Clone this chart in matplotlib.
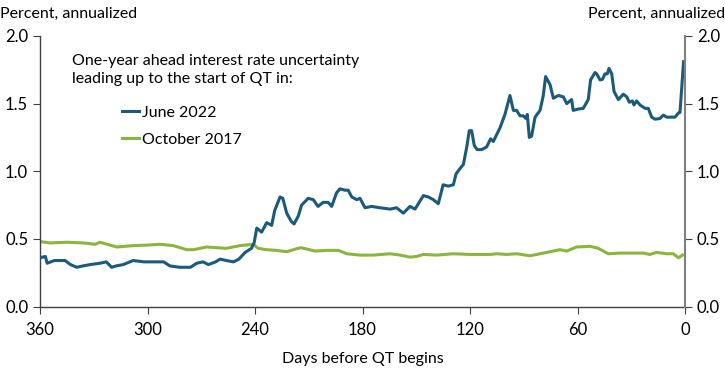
import matplotlib
matplotlib.use("Agg")
import matplotlib.pyplot as plt
import numpy as np

# days before QT begins, values in percent (annualized)
june22_days = [360, 357, 356, 352, 346, 343, 339.5, 336, 332, 326.5, 323, 320, 317.5, 313.5,
               308, 302, 297, 291, 287.5, 282, 276, 272.5, 269, 266, 262, 259.5, 256, 252,
               249, 245.5, 242, 240.5, 239, 236.3, 233.5, 230.7, 229, 226, 224.5, 222.3,
               219.8, 218.2, 215.8, 214, 210.3, 207.5, 204.8, 202, 199.2, 197.2, 194.5,
               192.6, 189.8, 188, 186, 183.2, 181.4, 178.6, 175, 170.2, 164.6, 161, 157.2,
               153.5, 150.7, 147.9, 146, 143.3, 140.5, 137.7, 135, 132.1, 129.3, 127.8,
               125.6, 123.7, 121.8, 120.4, 119.1, 117.6, 116, 113.5, 110.7, 108.5, 107,
               103.3, 100.5, 97.7, 95.8, 94, 92.1, 90.3, 88.8, 88, 86.9, 85.6, 83.7, 80.9,
               79.1, 77.8, 75.3, 73.5, 70.7, 67.9, 66, 63.3, 62.4, 59.6, 56.8, 54, 52.7,
               50.2, 49.3, 47.4, 46, 44.7, 43.4, 42.4, 40.9, 39.6, 37.2, 34.4, 32.5, 31.1,
               29.4, 28.5, 27, 25.1, 22.3, 20.5, 18.6, 16.7, 14, 12.1, 10.2, 7.4, 5.6, 3.7,
               2.8, 0.8]
june22_vals = [0.36, 0.37, 0.32, 0.34, 0.34, 0.31, 0.29, 0.30, 0.31, 0.32, 0.33, 0.29, 0.30, 0.31,
               0.34, 0.33, 0.33, 0.33, 0.30, 0.29, 0.29, 0.32, 0.33, 0.31, 0.33, 0.35, 0.34, 0.33,
               0.35, 0.40, 0.43, 0.47, 0.58, 0.55, 0.62, 0.60, 0.71, 0.81, 0.80, 0.69,
               0.63, 0.61, 0.67, 0.75, 0.80, 0.79, 0.74, 0.77, 0.77, 0.74, 0.84,
               0.87, 0.86, 0.86, 0.81, 0.79, 0.80, 0.73, 0.74, 0.73, 0.72, 0.73, 0.69,
               0.74, 0.72, 0.78, 0.82, 0.81, 0.79, 0.76, 0.90, 0.89, 0.90, 0.98,
               1.02, 1.05, 1.18, 1.30, 1.30, 1.19, 1.16, 1.16, 1.18, 1.24, 1.22,
               1.32, 1.42, 1.56, 1.45, 1.45, 1.41, 1.41, 1.39, 1.42, 1.25, 1.26, 1.40, 1.45,
               1.56, 1.70, 1.64, 1.54, 1.56, 1.55, 1.50, 1.53, 1.45, 1.46, 1.465, 1.53, 1.675,
               1.73, 1.72, 1.675, 1.68, 1.72, 1.72, 1.76, 1.72, 1.59, 1.53, 1.57, 1.55, 1.51,
               1.52, 1.49, 1.52, 1.49, 1.465, 1.465, 1.40, 1.385, 1.39, 1.415, 1.40, 1.40, 1.40, 1.43,
               1.435, 1.81]

oct17_days = [360, 354.4, 345, 335.8, 329.3, 326.5, 317.2, 308, 298.6, 293, 285.6, 278.1,
              274.4, 267, 256, 248.4, 241, 238.2, 233.5, 228, 222.3, 218.6, 214.5, 211.2,
              206.5, 200, 193.5, 188.8, 181.4, 174, 164.6, 159, 153.5, 149.8, 146, 138.6,
              129.3, 120, 108.8, 105, 99.6, 94, 86.5, 80.9, 75.3, 69.8, 66, 60.5, 53, 48.4,
              42.8, 36.3, 28.8, 23.3, 19.6, 15.9, 10.2, 6.5, 3.7, 1.4]
oct17_vals = [0.48, 0.47, 0.475, 0.47, 0.46, 0.475, 0.44, 0.45, 0.455, 0.46, 0.45, 0.42,
              0.42, 0.44, 0.43, 0.45, 0.46, 0.43, 0.42, 0.415, 0.405, 0.42, 0.435, 0.425,
              0.41, 0.415, 0.415, 0.39, 0.38, 0.38, 0.39, 0.38, 0.365, 0.37, 0.385, 0.38,
              0.39, 0.385, 0.385, 0.39, 0.385, 0.39, 0.375, 0.39, 0.405, 0.42, 0.41, 0.44, 0.445, 0.43,
              0.39, 0.395, 0.395, 0.395, 0.385, 0.40, 0.39, 0.39, 0.36, 0.38]

x_ticks = [360, 300, 240, 180, 120, 60, 0]
y_ticks = [0.0, 0.5, 1.0, 1.5, 2.0]

BLUE = "#1b5a7a"
GREEN = "#8ab53f"

plt.rcParams["font.family"] = ["Lato", "DejaVu Sans"]
plt.rcParams["font.size"] = 11.5

fig = plt.figure(figsize=(7.25, 3.69), dpi=100)
ax = fig.add_axes([40 / 725, 1 - 306.5 / 369, 645 / 725, 270.5 / 369])

ax.plot(june22_days, june22_vals, color=BLUE, lw=2.2, label="June 2022", zorder=3)
ax.plot(oct17_days, oct17_vals, color=GREEN, lw=2.2, label="October 2017", zorder=2)

ax.set_xlim(360, 0)
ax.set_ylim(0, 2.0)
ax.set_xticks(x_ticks)
ax.set_yticks(y_ticks)
ax.set_yticklabels([f"{v:.1f}" for v in y_ticks])
ax.spines["top"].set_visible(False)
ax.spines["right"].set_visible(False)
for s in ("left", "bottom"):
    ax.spines[s].set_color("#404040")
    ax.spines[s].set_linewidth(1.0)
ax.tick_params(axis="both", direction="out", length=5, color="#404040", labelsize=12)
ax.tick_params(axis="x", pad=6)
ax.set_xlabel("Days before QT begins", fontsize=11.5, labelpad=10)

ax2 = ax.twinx()
ax2.set_ylim(0, 2.0)
ax2.set_yticks(y_ticks)
ax2.set_yticklabels([f"{v:.1f}" for v in y_ticks])
for s in ("top", "left", "bottom"):
    ax2.spines[s].set_visible(False)
ax2.spines["right"].set_color("#808080")
ax2.spines["right"].set_linewidth(1.5)
ax2.tick_params(axis="y", direction="out", length=5, color="#404040", labelsize=12)

fig.text(0.0, 1 - 14 / 369, "Percent, annualized", ha="left", va="center", fontsize=11.5)
fig.text(1.0, 1 - 14 / 369, "Percent, annualized", ha="right", va="center", fontsize=11.5)

ax.text(72 / 725, 1 - 70 / 369, "One-year ahead interest rate uncertainty\nleading up to the start of QT in:",
        transform=fig.transFigure, ha="left", va="center", fontsize=11.5, linespacing=1.45)
ax.legend(loc="upper left", bbox_to_anchor=(108 / 725, 1 - 91 / 369), bbox_transform=fig.transFigure,
          frameon=False, handlelength=1.05, handletextpad=0.2, labelspacing=0.8, fontsize=11.5)

fig.savefig("out.png", dpi=100)
